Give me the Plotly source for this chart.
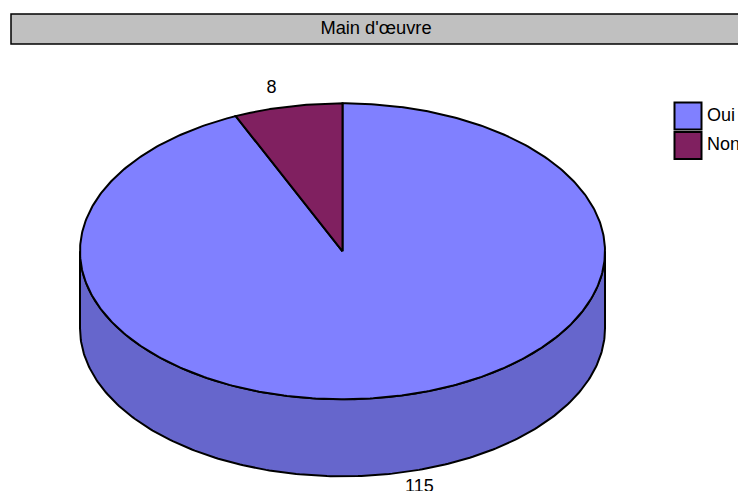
import numpy as np
import plotly.graph_objects as go

title = "Main d'œuvre"
categories = ["Oui", "Non"]
values = [115, 8]
top_colors = ["#8080FF", "#802060"]
side_colors = ["#6666CC", "#661A4D"]

W, H = 738, 491
CX, CY, RX, RY, DEPTH = 342.5, 251.3, 262.5, 148, 77
FONT = dict(family="Liberation Sans, Arial, sans-serif", size=18, color="black")
TITLE_FONT = dict(FONT, size=18.3)
LW = 2

total = sum(values)
# slice boundaries snap to whole degrees, as the original charting tool does
edges = np.radians(np.floor(np.concatenate([[0], np.cumsum(values)]) / total * 360))


def ellipse(angles, dy=0.0):
    """Angle measured clockwise from the top of the pie."""
    return CX + RX * np.sin(angles), CY - RY * np.cos(angles) + dy


fig = go.Figure()

# side walls (front half only)
for i, cat in enumerate(categories):
    a0, a1 = max(edges[i], np.pi / 2), min(edges[i + 1], 3 * np.pi / 2)
    if a1 <= a0:
        continue
    t = np.linspace(a0, a1, 240)
    x1, y1 = ellipse(t)
    x2, y2 = ellipse(t[::-1], DEPTH)
    fig.add_trace(go.Scatter(
        x=np.r_[x1, x2, x1[0]], y=np.r_[y1, y2, y1[0]], mode="lines", fill="toself",
        fillcolor=side_colors[i], line=dict(color="black", width=LW), hoverinfo="skip"))

# top slices
for i, cat in enumerate(categories):
    t = np.linspace(edges[i], edges[i + 1], 480)
    x, y = ellipse(t)
    fig.add_trace(go.Scatter(
        x=np.r_[CX, x, CX], y=np.r_[CY, y, CY], mode="lines", fill="toself",
        fillcolor=top_colors[i], line=dict(color="black", width=LW), name=cat,
        hoverinfo="skip"))

# value labels
mids = (edges[:-1] + edges[1:]) / 2
lx = [CX + (1.41 if np.cos(m) < 0 else 1.3) * RX * np.sin(m) for m in mids]
ly = [CY - RY * np.cos(m) + (DEPTH + 14 if np.cos(m) < 0 else -18) for m in mids]
fig.add_trace(go.Scatter(x=lx, y=ly, mode="text", text=[str(v) for v in values],
                         textposition="middle center", textfont=FONT, hoverinfo="skip",
                         cliponaxis=False))

# legend
shapes = [dict(type="rect", x0=11, x1=790, y0=14, y1=44, fillcolor="#C0C0C0",
               line=dict(color="black", width=1.5), layer="below")]
for i, cat in enumerate(categories):
    y0 = 102.5 + i * 29.5
    shapes.append(dict(type="rect", x0=674.5, x1=701.5, y0=y0, y1=y0 + 27,
                       fillcolor=top_colors[i], line=dict(color="black", width=2)))
fig.add_trace(go.Scatter(x=[707, 707], y=[116, 145], mode="text", text=categories,
                         textposition="middle right", textfont=FONT, hoverinfo="skip"))

# title
fig.add_trace(go.Scatter(x=[376], y=[29.5], mode="text", text=[title],
                         textposition="middle center", textfont=TITLE_FONT, hoverinfo="skip"))

fig.update_layout(
    width=W, height=H, margin=dict(l=0, r=0, t=0, b=0), showlegend=False,
    paper_bgcolor="white", plot_bgcolor="white", shapes=shapes,
    xaxis=dict(range=[0, W], visible=False, fixedrange=True),
    yaxis=dict(range=[H, 0], visible=False, fixedrange=True),
)
fig.write_html("out.html", config=dict(displayModeBar=False),
               post_script="document.body.style.margin='0';document.body.style.overflow='hidden';")
